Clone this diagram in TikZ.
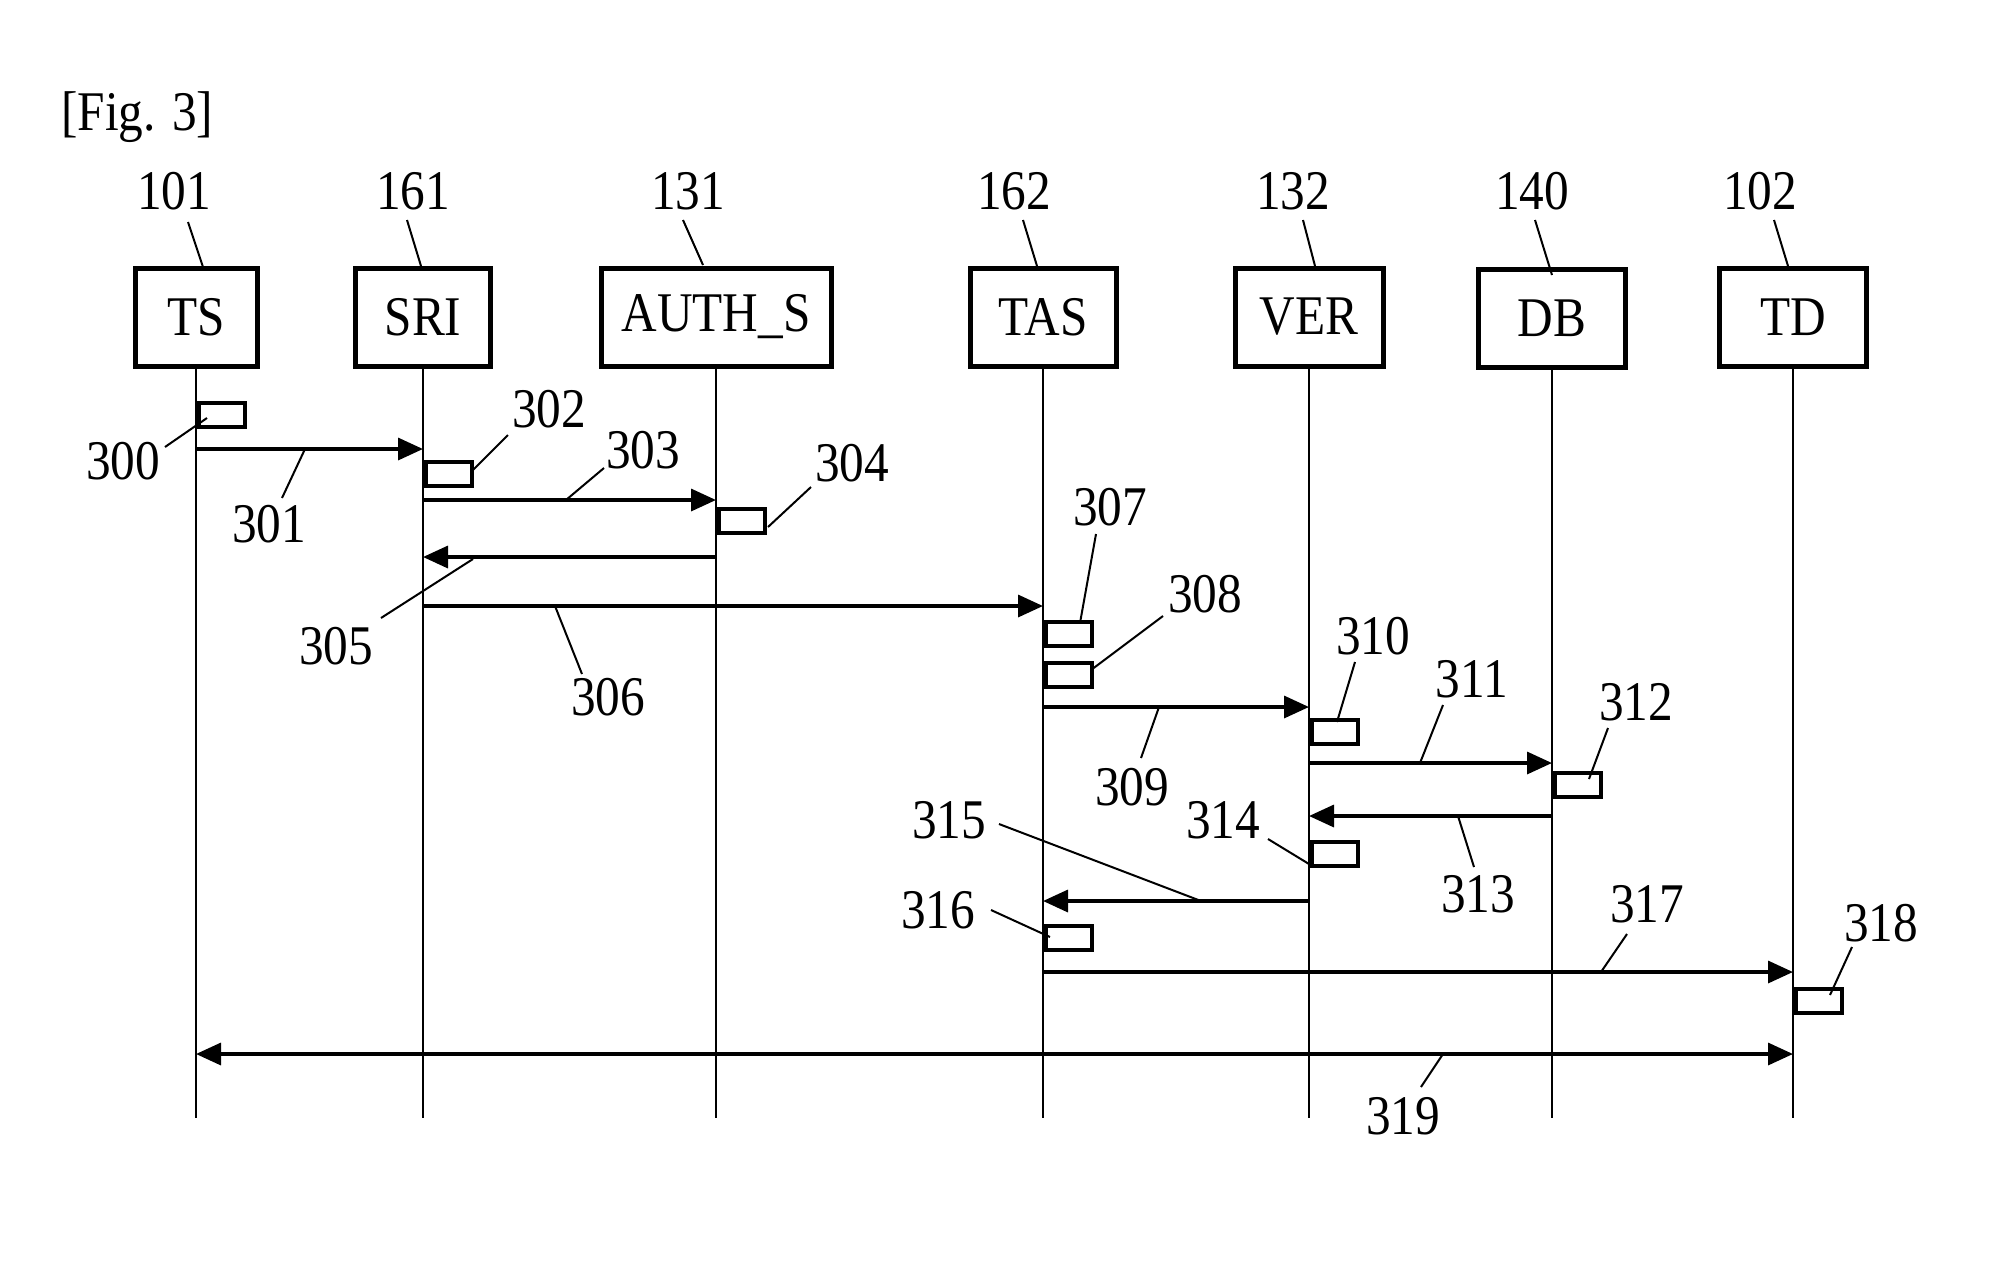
\documentclass[tikz,border=0pt]{standalone}
\usepackage{fontspec}
\setmainfont[FakeStretch=0.88]{Liberation Serif}
\usetikzlibrary{arrows.meta}
\begin{document}
\begin{tikzpicture}[x=0.5pt,y=-0.5pt,
 hdr/.style={draw,line width=2.5pt,minimum height=49pt,inner sep=0pt,font=\fontsize{28}{30}\selectfont},
 act/.style={draw,line width=2pt,minimum width=23pt,minimum height=12pt,inner sep=0pt,anchor=west},
 life/.style={line width=1.4pt},
 msg/.style={line width=1.7pt,-{Triangle[length=12.5pt,width=11pt]}},
 dmsg/.style={line width=1.7pt,{Triangle[length=12.5pt,width=11pt]}-{Triangle[length=12.5pt,width=11pt]}},
 lbl/.style={font=\fontsize{28}{30}\selectfont,inner sep=0pt},
 lead/.style={line width=1pt}]
\useasboundingbox (0,0) rectangle (1993,1276);
\fill[white] (0,0) rectangle (1993,1276);

\node[lbl,anchor=west] (fig) at (61,117) {[Fig. 3]};

% header boxes
\node[hdr,minimum width=61pt]  (ts)   at (196,317) {TS};
\node[hdr,minimum width=67.5pt](sri)  at (423,317) {SRI};
\node[hdr,minimum width=115pt] (auth) at (716,317) {AUTH\_S};
\node[hdr,minimum width=73pt]  (tas)  at (1043,317) {TAS};
\node[hdr,minimum width=74pt]  (ver)  at (1309,317) {VER};
\node[hdr,minimum width=73.5pt](db)   at (1552,318) {DB};
\node[hdr,minimum width=73.5pt](td)   at (1793,317) {TD};

% lifeline ends
\coordinate (tse)   at (196,1118);
\coordinate (srie)  at (423,1118);
\coordinate (authe) at (716,1118);
\coordinate (tase)  at (1043,1118);
\coordinate (vere)  at (1309,1118);
\coordinate (dbe)   at (1552,1118);
\coordinate (tde)   at (1793,1118);
\draw[life] (ts.south) -- (tse);
\draw[life] (sri.south) -- (srie);
\draw[life] (auth.south) -- (authe);
\draw[life] (tas.south) -- (tase);
\draw[life] (ver.south) -- (vere);
\draw[life] (db.south) -- (dbe);
\draw[life] (td.south) -- (tde);

% activation boxes
\node[act] (a300) at (197,415) {};
\node[act] (a302) at (424,474) {};
\node[act] (a304) at (717,521) {};
\node[act] (a307) at (1044,634) {};
\node[act] (a308) at (1044,675) {};
\node[act] (a310) at (1310,732) {};
\node[act] (a312) at (1553,785) {};
\node[act] (a314) at (1310,854) {};
\node[act] (a316) at (1044,938) {};
\node[act] (a318) at (1794,1001) {};

% message rows
\coordinate (y301) at (0,449);
\coordinate (y303) at (0,500);
\coordinate (y305) at (0,557);
\coordinate (y306) at (0,606);
\coordinate (y309) at (0,707);
\coordinate (y311) at (0,763);
\coordinate (y313) at (0,816);
\coordinate (y315) at (0,901);
\coordinate (y317) at (0,972);
\coordinate (y319) at (0,1054);

\draw[msg] (ts |- y301) -- (sri |- y301);
\draw[msg] (sri |- y303) -- (auth |- y303);
\draw[msg] (auth |- y305) -- (sri |- y305);
\draw[msg] (sri |- y306) -- (tas |- y306);
\draw[msg] (tas |- y309) -- (ver |- y309);
\draw[msg] (ver |- y311) -- (db |- y311);
\draw[msg] (db |- y313) -- (ver |- y313);
\draw[msg] (ver |- y315) -- (tas |- y315);
\draw[msg] (tas |- y317) -- (td |- y317);
\draw[dmsg] (ts |- y319) -- (td |- y319);

% reference numerals
\node[lbl] (n101) at (174,191) {101};
\node[lbl] (n161) at (413,191) {161};
\node[lbl] (n131) at (688,191) {131};
\node[lbl] (n162) at (1014,191) {162};
\node[lbl] (n132) at (1293,191) {132};
\node[lbl] (n140) at (1532,191) {140};
\node[lbl] (n102) at (1760,191) {102};
\draw[lead] (188,222) -- (203,267);
\draw[lead] (407,220) -- (421,266);
\draw[lead] (683,220) -- (703,265);
\draw[lead] (1023,220) -- (1037,266);
\draw[lead] (1303,220) -- (1315,266);
\draw[lead] (1535,220) -- (1552,275);
\draw[lead] (1774,220) -- (1788,266);

\node[lbl] (n300) at (123,461) {300};
\node[lbl] (n301) at (269,524) {301};
\node[lbl] (n302) at (549,409) {302};
\node[lbl] (n303) at (643,450) {303};
\node[lbl] (n304) at (852,463) {304};
\node[lbl] (n305) at (336,646) {305};
\node[lbl] (n306) at (608,697) {306};
\node[lbl] (n307) at (1110,507) {307};
\node[lbl] (n308) at (1205,594) {308};
\node[lbl] (n309) at (1132,787) {309};
\node[lbl] (n310) at (1373,636) {310};
\node[lbl] (n311) at (1472,679) {311};
\node[lbl] (n312) at (1636,702) {312};
\node[lbl] (n313) at (1478,894) {313};
\node[lbl] (n314) at (1223,820) {314};
\node[lbl] (n315) at (949,820) {315};
\node[lbl] (n316) at (938,910) {316};
\node[lbl] (n317) at (1647,904) {317};
\node[lbl] (n318) at (1881,923) {318};
\node[lbl] (n319) at (1403,1116) {319};

\draw[lead] (165,447) -- (207,418);
\draw[lead] (282,498) -- (305,449);
\draw[lead] (508,435) -- (473,470);
\draw[lead] (604,468) -- (566,500);
\draw[lead] (811,487) -- (768,527);
\draw[lead] (381,618) -- (473,559);
\draw[lead] (582,674) -- (555,606);
\draw[lead] (1096,534) -- (1080,623);
\draw[lead] (1163,616) -- (1091,670);
\draw[lead] (1141,758) -- (1159,707);
\draw[lead] (1355,662) -- (1337,722);
\draw[lead] (1443,705) -- (1420,763);
\draw[lead] (1608,728) -- (1589,779);
\draw[lead] (1474,867) -- (1458,816);
\draw[lead] (1268,839) -- (1309,864);
\draw[lead] (999,824) -- (1201,901);
\draw[lead] (991,910) -- (1050,937);
\draw[lead] (1627,934) -- (1601,972);
\draw[lead] (1852,947) -- (1830,995);
\draw[lead] (1421,1087) -- (1443,1054);
\end{tikzpicture}
\end{document}
